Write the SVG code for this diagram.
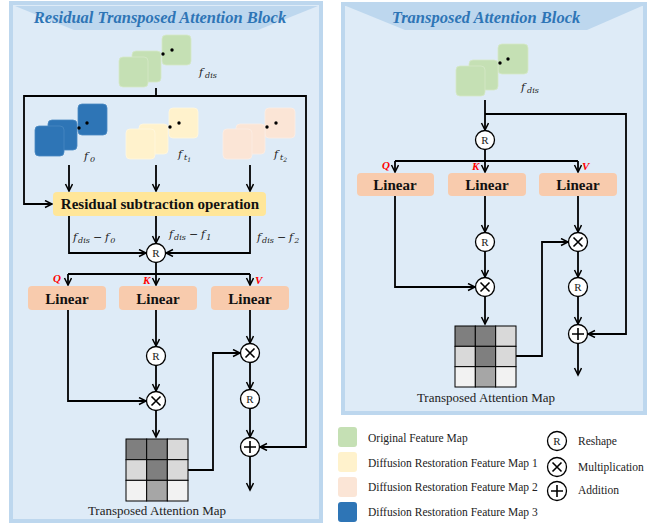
<svg xmlns="http://www.w3.org/2000/svg" width="667" height="527" viewBox="0 0 667 527">
<defs>
<marker id="arr" markerWidth="10" markerHeight="10" refX="8" refY="4" orient="auto" markerUnits="userSpaceOnUse">
<path d="M1,0.5 L8,4 L1,7.5" fill="none" stroke="#000" stroke-width="1.5"/>
</marker>
<style>
.panel{fill:#deebf7;stroke:#bdd7ee;stroke-width:4}
.banner{fill:#bdd7ee}
.title{font-family:"Liberation Serif",serif;font-weight:bold;font-style:italic;fill:#2e75b6;font-size:16.5px;text-anchor:middle}
.conn path{fill:none;stroke:#000;stroke-width:1.8}
.arr{marker-end:url(#arr)}
.g{fill:#c5e0b4;stroke:#d5e9c8;stroke-width:0.8}
.y{fill:#fff2cc;stroke:#fff7df;stroke-width:0.8}
.p{fill:#fbe5d6;stroke:#fdeee4;stroke-width:0.8}
.b{fill:#2e75b6;stroke:#4a89c2;stroke-width:0.8}
.dot{fill:#000}
.fl{font-family:"DejaVu Serif","Liberation Serif",serif;font-style:italic;font-size:11px;fill:#222}
.sub{font-size:8px}
.lin{fill:#f8cbad}
.lt{font-family:"Liberation Serif",serif;font-weight:bold;font-size:15px;text-anchor:middle;fill:#111}
.op{fill:#fff;stroke:#000;stroke-width:1.3}
.ot{font-family:"Liberation Serif",serif;font-size:11px;text-anchor:middle;fill:#222}
.qkv{font-family:"Liberation Serif",serif;font-weight:bold;font-style:italic;font-size:11px;fill:#ff0000}
.cap{font-family:"Liberation Serif",serif;font-size:13px;text-anchor:middle;fill:#222}
.leg{font-family:"Liberation Serif",serif;font-size:11.5px;fill:#222}
.c1{fill:#7f7f7f;stroke:#000;stroke-width:1}
.c2{fill:#d9d9d9;stroke:#000;stroke-width:1}
.c3{fill:#f2f2f2;stroke:#000;stroke-width:1}
.c4{fill:#a6a6a6;stroke:#000;stroke-width:1}
.sym{stroke:#000;stroke-width:1.6}
</style>
</defs>

<!-- Panels -->
<rect class="panel" x="11" y="3" width="310" height="518"/>
<path class="banner" d="M15,6 H318 L258,30 H74 Z"/>
<text class="title" x="160" y="23">Residual Transposed Attention Block</text>

<rect class="panel" x="343" y="4" width="302" height="409"/>
<path class="banner" d="M346,6 H642 L587,30 H405 Z"/>
<text class="title" x="486" y="23">Transposed Attention Block</text>

<!-- Connectors -->
<g id="connectors" class="conn">
<path d="M156,88 V96"/>
<path class="arr" d="M156,96 H24 V204 H52"/>
<path class="arr" d="M156,96 H306 V447 H260"/>
<path class="arr" d="M69,165 V191"/>
<path class="arr" d="M156,165 V191"/>
<path class="arr" d="M250,165 V191"/>
<path class="arr" d="M69,216 V253 H146"/>
<path class="arr" d="M156,216 V243"/>
<path class="arr" d="M250,216 V253 H166"/>
<path d="M156,263 V274 M68,274 H250"/>
<path class="arr" d="M68,274 V285"/>
<path class="arr" d="M156,274 V285"/>
<path class="arr" d="M250,274 V285"/>
<path class="arr" d="M68,310 V401 H146"/>
<path class="arr" d="M156,310 V346"/>
<path class="arr" d="M156,366 V391"/>
<path class="arr" d="M156,411 V437"/>
<path class="arr" d="M250,310 V343"/>
<path class="arr" d="M250,363 V389"/>
<path class="arr" d="M250,409 V437"/>
<path class="arr" d="M250,457 V490"/>
<path class="arr" d="M188,470 H213 V353 H240"/>

<path class="arr" d="M485,100 V130"/>
<path class="arr" d="M485,114 H626 V334 H588"/>
<path d="M485,150 V161 M395,161 H578"/>
<path class="arr" d="M395,161 V172"/>
<path class="arr" d="M485,161 V172"/>
<path class="arr" d="M578,161 V172"/>
<path class="arr" d="M395,196 V287 H475"/>
<path class="arr" d="M485,196 V232"/>
<path class="arr" d="M485,252 V277"/>
<path class="arr" d="M485,297 V324"/>
<path class="arr" d="M578,196 V232"/>
<path class="arr" d="M578,252 V277"/>
<path class="arr" d="M578,297 V324"/>
<path class="arr" d="M578,344 V375"/>
<path class="arr" d="M516,356 H542 V242 H568"/>
</g>

<!-- Left panel nodes -->
<g id="fdis-left">
<rect class="g" x="162" y="35" width="29" height="30" rx="4"/>
<rect class="g" x="132" y="51" width="29" height="31" rx="4"/>
<rect class="g" x="119" y="57" width="29" height="30" rx="4"/>
<circle class="dot" cx="163" cy="54" r="1.7"/><circle class="dot" cx="172" cy="50" r="1.7"/>
<text class="fl" x="199" y="76">f<tspan class="sub" dx="2" dy="2">dis</tspan></text>
</g>
<g id="f0">
<rect class="b" x="78" y="104" width="29" height="31" rx="4"/>
<rect class="b" x="48" y="120" width="29" height="30" rx="4"/>
<rect class="b" x="35" y="126" width="29" height="30" rx="4"/>
<circle class="dot" cx="79" cy="128" r="1.7"/><circle class="dot" cx="87" cy="123" r="1.7"/>
<text class="fl" x="84" y="160">f<tspan class="sub" dx="2" dy="2">0</tspan></text>
</g>
<g id="ft1">
<rect class="y" x="169" y="108" width="29" height="30" rx="4"/>
<rect class="y" x="139" y="124" width="29" height="30" rx="4"/>
<rect class="y" x="126" y="129" width="29" height="30" rx="4"/>
<circle class="dot" cx="170" cy="127" r="1.7"/><circle class="dot" cx="179" cy="123" r="1.7"/>
<text class="fl" x="178" y="158">f<tspan class="sub" dx="2" dy="2">t<tspan font-size="6" dy="2">1</tspan></tspan></text>
</g>
<g id="ft2">
<rect class="p" x="265" y="108" width="30" height="30" rx="4"/>
<rect class="p" x="236" y="124" width="29" height="30" rx="4"/>
<rect class="p" x="223" y="129" width="29" height="30" rx="4"/>
<circle class="dot" cx="267" cy="127" r="1.7"/><circle class="dot" cx="276" cy="123" r="1.7"/>
<text class="fl" x="274" y="158">f<tspan class="sub" dx="2" dy="2">t<tspan font-size="6" dy="2">2</tspan></tspan></text>
</g>
<g id="residual">
<rect x="53" y="192" width="213" height="24" rx="4" fill="#ffe699"/>
<text class="lt" x="160" y="209" font-size="14">Residual subtraction operation</text>
</g>
<g id="diff-labels">
<text class="fl" x="73" y="241">f<tspan class="sub" dx="1" dy="2">dis</tspan><tspan dx="3" dy="-2" font-style="normal">−</tspan><tspan dx="3">f</tspan><tspan class="sub" dx="1" dy="2">0</tspan></text>
<text class="fl" x="169" y="238">f<tspan class="sub" dx="1" dy="2">dis</tspan><tspan dx="3" dy="-2" font-style="normal">−</tspan><tspan dx="3">f</tspan><tspan class="sub" dx="1" dy="2">1</tspan></text>
<text class="fl" x="257" y="241">f<tspan class="sub" dx="1" dy="2">dis</tspan><tspan dx="3" dy="-2" font-style="normal">−</tspan><tspan dx="3">f</tspan><tspan class="sub" dx="1" dy="2">2</tspan></text>
</g>
<g id="R1"><circle class="op" cx="156" cy="253" r="9.5"/><text class="ot" x="156" y="257">R</text></g>
<g id="qkv-left">
<text class="qkv" x="53" y="282">Q</text>
<text class="qkv" x="143" y="284">K</text>
<text class="qkv" x="255" y="284">V</text>
</g>
<g id="linQ"><rect class="lin" x="28" y="286" width="78" height="24" rx="4"/><text class="lt" x="67" y="304">Linear</text></g>
<g id="linK"><rect class="lin" x="119" y="286" width="78" height="24" rx="4"/><text class="lt" x="158" y="304">Linear</text></g>
<g id="linV"><rect class="lin" x="211" y="286" width="78" height="24" rx="4"/><text class="lt" x="250" y="304">Linear</text></g>
<g id="R2"><circle class="op" cx="156" cy="356" r="9.5"/><text class="ot" x="156" y="360">R</text></g>
<g id="M1"><circle class="op" cx="156" cy="401" r="9.5"/><path class="sym" d="M151.5,396.5 L160.5,405.5 M160.5,396.5 L151.5,405.5"/></g>
<g id="M2"><circle class="op" cx="250" cy="353" r="9.5"/><path class="sym" d="M245.5,348.5 L254.5,357.5 M254.5,348.5 L245.5,357.5"/></g>
<g id="R3"><circle class="op" cx="250" cy="399" r="9.5"/><text class="ot" x="250" y="403">R</text></g>
<g id="A1"><circle class="op" cx="250" cy="447" r="9.5"/><path class="sym" d="M244,447 H256 M250,441 V453"/></g>
<g id="map-left">
<rect class="c1" x="126" y="439" width="20.67" height="20.67"/>
<rect class="c1" x="146.67" y="439" width="20.67" height="20.67"/>
<rect class="c2" x="167.33" y="439" width="20.67" height="20.67"/>
<rect class="c2" x="126" y="459.67" width="20.67" height="20.67"/>
<rect class="c1" x="146.67" y="459.67" width="20.67" height="20.67"/>
<rect class="c2" x="167.33" y="459.67" width="20.67" height="20.67"/>
<rect class="c3" x="126" y="480.33" width="20.67" height="20.67"/>
<rect class="c4" x="146.67" y="480.33" width="20.67" height="20.67"/>
<rect class="c3" x="167.33" y="480.33" width="20.67" height="20.67"/>
<text class="cap" x="157" y="515">Transposed Attention Map</text>
</g>

<!-- Right panel nodes -->
<g id="fdis-right">
<rect class="g" x="498" y="44" width="30" height="30" rx="4"/>
<rect class="g" x="469" y="60" width="29" height="30" rx="4"/>
<rect class="g" x="456" y="66" width="29" height="30" rx="4"/>
<circle class="dot" cx="500" cy="63" r="1.7"/><circle class="dot" cx="508" cy="59" r="1.7"/>
<text class="fl" x="521" y="91">f<tspan class="sub" dx="2" dy="2">dis</tspan></text>
</g>
<g id="R4"><circle class="op" cx="485" cy="140" r="9.5"/><text class="ot" x="485" y="144">R</text></g>
<g id="qkv-right">
<text class="qkv" x="382" y="169">Q</text>
<text class="qkv" x="472" y="170">K</text>
<text class="qkv" x="582" y="170">V</text>
</g>
<g id="linQ2"><rect class="lin" x="357" y="173" width="77" height="23" rx="4"/><text class="lt" x="395" y="190">Linear</text></g>
<g id="linK2"><rect class="lin" x="448" y="173" width="78" height="23" rx="4"/><text class="lt" x="487" y="190">Linear</text></g>
<g id="linV2"><rect class="lin" x="539" y="173" width="78" height="23" rx="4"/><text class="lt" x="578" y="190">Linear</text></g>
<g id="R5"><circle class="op" cx="485" cy="242" r="9.5"/><text class="ot" x="485" y="246">R</text></g>
<g id="M3"><circle class="op" cx="485" cy="287" r="9.5"/><path class="sym" d="M480.5,282.5 L489.5,291.5 M489.5,282.5 L480.5,291.5"/></g>
<g id="M4"><circle class="op" cx="578" cy="242" r="9.5"/><path class="sym" d="M573.5,237.5 L582.5,246.5 M582.5,237.5 L573.5,246.5"/></g>
<g id="R6"><circle class="op" cx="578" cy="287" r="9.5"/><text class="ot" x="578" y="291">R</text></g>
<g id="A2"><circle class="op" cx="578" cy="334" r="9.5"/><path class="sym" d="M572,334 H584 M578,328 V340"/></g>
<g id="map-right">
<rect class="c1" x="455" y="326" width="20.33" height="20.33"/>
<rect class="c1" x="475.33" y="326" width="20.33" height="20.33"/>
<rect class="c2" x="495.67" y="326" width="20.33" height="20.33"/>
<rect class="c2" x="455" y="346.33" width="20.33" height="20.33"/>
<rect class="c1" x="475.33" y="346.33" width="20.33" height="20.33"/>
<rect class="c2" x="495.67" y="346.33" width="20.33" height="20.33"/>
<rect class="c3" x="455" y="366.67" width="20.33" height="20.33"/>
<rect class="c4" x="475.33" y="366.67" width="20.33" height="20.33"/>
<rect class="c3" x="495.67" y="366.67" width="20.33" height="20.33"/>
<text class="cap" x="486" y="402">Transposed Attention Map</text>
</g>

<!-- Legend -->
<g id="legend">
<rect x="338" y="427" width="19" height="20" rx="3" fill="#c5e0b4"/>
<text class="leg" x="368" y="442">Original Feature Map</text>
<rect x="338" y="452" width="19" height="20" rx="3" fill="#fff2cc"/>
<text class="leg" x="368" y="467">Diffusion Restoration Feature Map 1</text>
<rect x="338" y="477" width="19" height="20" rx="3" fill="#fbe5d6"/>
<text class="leg" x="368" y="491">Diffusion Restoration Feature Map 2</text>
<rect x="338" y="502" width="19" height="20" rx="3" fill="#2e75b6"/>
<text class="leg" x="368" y="516">Diffusion Restoration Feature Map 3</text>
<circle class="op" cx="557" cy="441" r="9.5"/><text class="ot" x="557" y="445" font-size="12">R</text>
<text class="leg" x="578" y="445">Reshape</text>
<circle class="op" cx="557" cy="467" r="9.5"/><path class="sym" d="M552.5,462.5 L561.5,471.5 M561.5,462.5 L552.5,471.5"/>
<text class="leg" x="578" y="471">Multiplication</text>
<circle class="op" cx="557" cy="491" r="9.5"/><path class="sym" d="M551,491 H563 M557,485 V497"/>
<text class="leg" x="578" y="494">Addition</text>
</g>
</svg>
